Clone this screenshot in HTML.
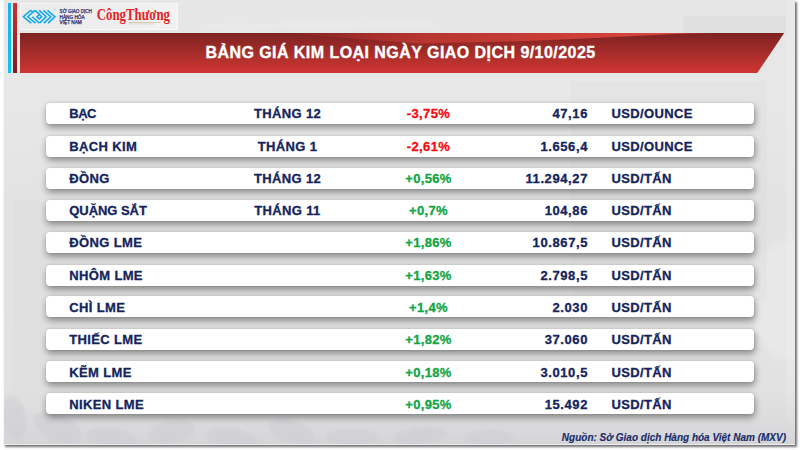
<!DOCTYPE html>
<html><head><meta charset="utf-8">
<style>
*{margin:0;padding:0;box-sizing:border-box}
html,body{width:800px;height:450px;overflow:hidden;background:#fff;font-family:"Liberation Sans",sans-serif}
#slide{position:absolute;left:3px;top:0;width:792px;height:445px;background:#e4e4e4;box-shadow:2px 2px 2px rgba(0,0,0,.55);overflow:hidden}
.abs{position:absolute}
#barB{left:5px;top:3px;width:3px;height:70px;background:linear-gradient(#1ab2ea,#08c3f4)}
#barR{left:9.7px;top:3px;width:4.5px;height:70px;background:linear-gradient(#c8332e,#7b2020)}
#logo{left:16.5px;top:3px;width:158.5px;height:27px;background:linear-gradient(90deg,#ebebeb,#eeeeee 60%,#f2f2f2);box-shadow:inset 0 0 0 1px rgba(255,255,255,.55)}
#hdr{left:16.5px;top:33px;width:765px;height:40px}
.row{position:absolute;left:42.5px;width:708.6px;height:21.3px;background:#fff;border-radius:4px;box-shadow:1px 3px 6px rgba(0,0,0,.33),0 0 2px rgba(0,0,0,.12),0 5px 9px rgba(0,0,0,.1)}
.row span{position:absolute;top:var(--t);line-height:21.3px;font-size:13px;font-weight:bold;color:#14245c;white-space:nowrap;letter-spacing:.35px;-webkit-text-stroke:.3px currentColor}
.c1{left:23.8px}
.c2{left:242px;width:0;text-align:center}
.c2 b,.c3 b{position:absolute;left:0;transform:translateX(-50%);font-weight:bold;-webkit-text-stroke:.3px currentColor}
.c3{left:383px;width:0}
.c4{right:166.1px;text-align:right;letter-spacing:.6px!important}
.c5{left:566px}
.red{color:#f80a0e!important}
.grn{color:#12a545!important}
#title{left:1.5px;top:33px;width:792px;text-align:center;color:#fff;font-weight:bold;font-size:16px;line-height:40px;letter-spacing:.45px;-webkit-text-stroke:.35px #fff}
#src{right:9px;top:432.2px;font-size:10px;font-weight:bold;font-style:italic;color:#1b2d6b;-webkit-text-stroke:.15px #1b2d6b}
</style></head><body>
<div id="slide">
  <svg class="abs" style="left:0;top:0" width="792" height="445" viewBox="3 0 792 445">
    <defs>
      <filter id="bl" x="-20%" y="-50%" width="140%" height="200%"><feGaussianBlur stdDeviation="3"/></filter>
      <filter id="bl2" x="-20%" y="-50%" width="140%" height="200%"><feGaussianBlur stdDeviation="1.5"/></filter>
      <linearGradient id="bgv" x1="0" y1="0" x2="0" y2="1"><stop offset="0" stop-color="#e6e6e6"/><stop offset=".2" stop-color="#e8e8e8"/><stop offset=".45" stop-color="#e3e3e3"/><stop offset="1" stop-color="#e2e2e2"/></linearGradient>
      <linearGradient id="bot" x1="0" y1="0" x2="0" y2="1"><stop offset="0" stop-color="#e2e2e3" stop-opacity="0"/><stop offset="1" stop-color="#d4d4d7"/></linearGradient>
      <linearGradient id="botx" x1="0" y1="0" x2="1" y2="0"><stop offset="0" stop-color="#fff" stop-opacity="0"/><stop offset=".45" stop-color="#fff" stop-opacity="0"/><stop offset=".7" stop-color="#fff" stop-opacity="1"/></linearGradient>
      <mask id="mb"><rect x="0" y="0" width="800" height="450" fill="#fff"/><rect x="0" y="0" width="800" height="450" fill="url(#botx)"/></mask>
    </defs>
    <rect x="3" y="0" width="792" height="445" fill="url(#bgv)"/>
    <!-- world map lighter top -->
    <g fill="#eaeaea" filter="url(#bl2)" opacity=".9">
      <ellipse cx="240" cy="27" rx="40" ry="4"/>
      <ellipse cx="320" cy="25" rx="45" ry="5"/>
      <ellipse cx="400" cy="24" rx="35" ry="5"/>
    </g>
    <rect x="786" y="0" width="9" height="445" fill="#ebebeb" opacity=".6"/>
    <ellipse cx="790" cy="300" rx="40" ry="60" fill="#ececec" opacity=".6" filter="url(#bl)"/>
    <rect x="683" y="16" width="103" height="18" fill="#dadada" opacity=".55"/>
    <rect x="571" y="81" width="196" height="220" fill="#d9d9d9" opacity=".3"/>
    <rect x="13" y="201" width="742" height="244" fill="#d9d9da" opacity=".3"/>
    <!-- beans bottom -->
    <g mask="url(#mb)">
      <rect x="3" y="370" width="792" height="75" fill="url(#bot)"/>
      <g filter="url(#bl2)" fill="#cdcdd2" opacity=".55">
        <ellipse cx="14" cy="418" rx="12" ry="22" transform="rotate(-10 14 418)"/>
        <ellipse cx="58" cy="428" rx="26" ry="13" transform="rotate(25 58 428)"/>
        <ellipse cx="112" cy="438" rx="26" ry="10" transform="rotate(8 112 438)"/>
        <ellipse cx="172" cy="432" rx="24" ry="11" transform="rotate(-12 172 432)"/>
        <ellipse cx="232" cy="438" rx="26" ry="10" transform="rotate(10 232 438)"/>
        <ellipse cx="292" cy="432" rx="24" ry="11" transform="rotate(20 292 432)"/>
        <ellipse cx="352" cy="438" rx="26" ry="9"/>
        <ellipse cx="420" cy="436" rx="26" ry="9" transform="rotate(-8 420 436)"/>
        <ellipse cx="490" cy="438" rx="24" ry="8"/>
      </g>
    </g>
  </svg>
  <div class="abs" id="barB"></div>
  <div class="abs" id="barR"></div>
  <div class="abs" id="logo"></div>
  <svg class="abs" id="hdr" width="765" height="40" viewBox="0 0 765 40">
    <defs><linearGradient id="hg" x1="0" y1="0" x2="0" y2="1"><stop offset="0" stop-color="#7d2322"/><stop offset="1" stop-color="#cf3632"/></linearGradient>
    <linearGradient id="hl" gradientUnits="userSpaceOnUse" x1="260" y1="0" x2="690" y2="0"><stop offset="0" stop-color="#c23933" stop-opacity="0"/><stop offset=".35" stop-color="#c23933" stop-opacity=".85"/><stop offset=".8" stop-color="#d4423a"/><stop offset="1" stop-color="#d84a40"/></linearGradient></defs>
    <polygon points="0,0 764.2,0 737.2,40 0,40" fill="url(#hg)"/>
    <polygon points="260,0 400,10.5 500,8.2 560,5.7 660,0.8 690,0" fill="url(#hl)"/>
  </svg>
  <div class="abs" id="title">BẢNG GIÁ KIM LOẠI NGÀY GIAO DỊCH 9/10/2025</div>

  <div class="row" style="top:103px;--t:-0.30px"><span class="c1" style="letter-spacing:-0.5px">BẠC</span><span class="c2"><b>THÁNG 12</b></span><span class="c3 red"><b>-3,75%</b></span><span class="c4">47,16</span><span class="c5">USD/OUNCE</span></div>
  <div class="row" style="top:135.6px;--t:0.10px"><span class="c1">BẠCH KIM</span><span class="c2"><b>THÁNG 1</b></span><span class="c3 red"><b>-2,61%</b></span><span class="c4">1.656,4</span><span class="c5">USD/OUNCE</span></div>
  <div class="row" style="top:167.7px;--t:0.00px"><span class="c1">ĐỒNG</span><span class="c2"><b>THÁNG 12</b></span><span class="c3 grn"><b>+0,56%</b></span><span class="c4">11.294,27</span><span class="c5">USD/TẤN</span></div>
  <div class="row" style="top:200px;--t:-0.30px"><span class="c1" style="letter-spacing:-0.05px">QUẶNG SẮT</span><span class="c2"><b>THÁNG 11</b></span><span class="c3 grn"><b>+0,7%</b></span><span class="c4">104,86</span><span class="c5">USD/TẤN</span></div>
  <div class="row" style="top:232px;--t:-0.30px"><span class="c1">ĐỒNG LME</span><span class="c3 grn"><b>+1,86%</b></span><span class="c4">10.867,5</span><span class="c5">USD/TẤN</span></div>
  <div class="row" style="top:264.5px;--t:0.20px"><span class="c1">NHÔM LME</span><span class="c3 grn"><b>+1,63%</b></span><span class="c4">2.798,5</span><span class="c5">USD/TẤN</span></div>
  <div class="row" style="top:296.2px;--t:0.50px"><span class="c1">CHÌ LME</span><span class="c3 grn"><b>+1,4%</b></span><span class="c4">2.030</span><span class="c5">USD/TẤN</span></div>
  <div class="row" style="top:328.9px;--t:-0.20px"><span class="c1">THIẾC LME</span><span class="c3 grn"><b>+1,82%</b></span><span class="c4">37.060</span><span class="c5">USD/TẤN</span></div>
  <div class="row" style="top:361px;--t:0.70px"><span class="c1">KẼM LME</span><span class="c3 grn"><b>+0,18%</b></span><span class="c4">3.010,5</span><span class="c5">USD/TẤN</span></div>
  <div class="row" style="top:393.1px;--t:0.60px"><span class="c1">NIKEN LME</span><span class="c3 grn"><b>+0,95%</b></span><span class="c4">15.492</span><span class="c5">USD/TẤN</span></div>

  <div class="abs" style="left:0;top:0;width:1px;height:445px;background:#f6f6f6"></div>
  <div class="abs" style="left:0;top:443.5px;width:792px;height:1.5px;background:#ececec"></div>
  <div class="abs" id="src">Nguồn: Sở Giao dịch Hàng hóa Việt Nam (MXV)</div>
</div>

<svg class="abs" style="left:0;top:0" width="800" height="450" viewBox="0 0 800 450">
  <defs>
    <linearGradient id="lg" x1="0" y1="0" x2="1" y2="0"><stop offset="0" stop-color="#e9e9e9"/><stop offset=".6" stop-color="#eeeeee"/><stop offset="1" stop-color="#f3f3f3"/></linearGradient>
  </defs>
  <g fill="none" stroke="#12a9e9" stroke-width="1.6" stroke-linecap="butt" stroke-linejoin="miter" transform="translate(39.15,16.75) scale(.955,.884) translate(-39.1,-16.6)">
    <path vector-effect="non-scaling-stroke" d="M30.2,9.3 L22.6,16.6 L30.7,23.9"/>
    <path vector-effect="non-scaling-stroke" d="M34.8,9.3 L27.2,16.6 L35.3,23.9"/>
    <path vector-effect="non-scaling-stroke" d="M30.2,9.3 L32.3,11.3"/>
    <path vector-effect="non-scaling-stroke" d="M34.8,9.3 L39.5,13.8 L36.8,16.6 L39.3,19.1 L41.6,16.6 L39.2,14.2"/>
    <path vector-effect="non-scaling-stroke" d="M39.2,9.3 L46.5,16.6 L39.7,23.5"/>
    <path vector-effect="non-scaling-stroke" d="M31.8,16.6 L39.5,23.9"/>
    <path vector-effect="non-scaling-stroke" d="M43.5,9.3 L51.3,16.6 L44,23.9"/>
    <path vector-effect="non-scaling-stroke" d="M47.8,9.3 L55.6,16.6 L48.4,23.9"/>
  </g>
  <rect x="54" y="9.4" width="1.6" height="0.6" fill="#6fc3ea"/>
  <g fill="#2d2b6c" stroke="#2d2b6c" stroke-width=".25" font-family="Liberation Sans" font-size="4.7px">
    <text x="59.6" y="13.4" textLength="32.3" lengthAdjust="spacingAndGlyphs">SỞ GIAO DỊCH</text>
    <text x="59.6" y="18.5" textLength="25" lengthAdjust="spacingAndGlyphs">HÀNG HÓA</text>
    <text x="59.6" y="23.6" textLength="22.2" lengthAdjust="spacingAndGlyphs">VIỆT NAM</text>
  </g>
  <text x="96.8" y="20.4" fill="#e21f26" font-family="Liberation Serif" font-weight="bold" font-size="17px" textLength="73.2" lengthAdjust="spacingAndGlyphs">CôngThương</text>
  <rect x="128.6" y="22.2" width="32" height="0.8" fill="#cdb493" opacity=".8"/>
  <rect x="128.6" y="23.6" width="26" height="0.7" fill="#cdb493" opacity=".6"/>
</svg>
</body></html>
